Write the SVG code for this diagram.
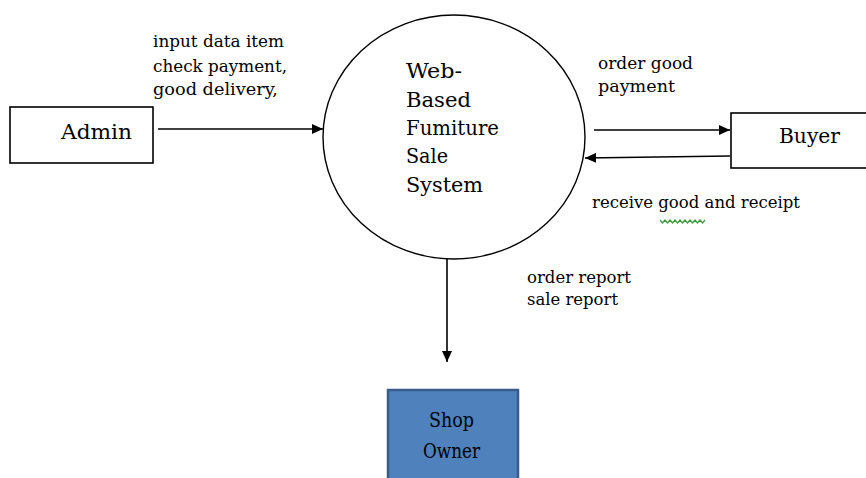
<svg xmlns="http://www.w3.org/2000/svg" width="866" height="478" viewBox="0 0 866 478">
<defs>
<marker id="ah" markerUnits="userSpaceOnUse" markerWidth="12" markerHeight="10" refX="11" refY="5" orient="auto">
<path d="M0,0 L11,5 L0,10 Z" fill="#000"/>
</marker>
<style>
.box{fill:#fff;stroke:#000;stroke-width:1.6}
.owner{fill:#4f81bd;stroke:#385d8a;stroke-width:2.5}
.bubble{fill:#fff;stroke:#000;stroke-width:1.4}
.t{font-family:"DejaVu Serif","Liberation Serif",serif;fill:#000}
.big{font-size:21px}
.lbl{font-size:16px}
.conn{stroke:#000;stroke-width:1.6;fill:none;marker-end:url(#ah)}
</style>
</defs>
<rect width="866" height="478" fill="#fff"/>
<g id="admin">
<rect class="box" x="10" y="107" width="143" height="56"/>
<text class="t big" x="61" y="139" textLength="71" lengthAdjust="spacingAndGlyphs">Admin</text>
</g>
<g id="system">
<ellipse class="bubble" cx="454" cy="137" rx="131" ry="122"/>
<text class="t big" x="406" y="78" textLength="56" lengthAdjust="spacingAndGlyphs">Web-</text>
<text class="t big" x="406" y="107" textLength="65" lengthAdjust="spacingAndGlyphs">Based</text>
<text class="t big" x="406" y="135" textLength="93" lengthAdjust="spacingAndGlyphs">Fumiture</text>
<text class="t big" x="406" y="163" textLength="42" lengthAdjust="spacingAndGlyphs">Sale</text>
<text class="t big" x="406" y="192" textLength="77" lengthAdjust="spacingAndGlyphs">System</text>
</g>
<g id="buyer">
<rect class="box" x="731" y="113" width="145" height="55"/>
<text class="t big" x="779" y="143" textLength="61" lengthAdjust="spacingAndGlyphs">Buyer</text>
</g>
<g id="shop-owner">
<rect class="owner" x="388" y="390" width="130" height="100"/>
<text class="t big" x="429" y="427" textLength="45" lengthAdjust="spacingAndGlyphs">Shop</text>
<text class="t big" x="423" y="458" textLength="57" lengthAdjust="spacingAndGlyphs">Owner</text>
</g>
<g id="connectors">
<line class="conn" x1="158" y1="129" x2="323" y2="129"/>
<line class="conn" x1="594" y1="130" x2="730" y2="130"/>
<line class="conn" x1="730" y1="156" x2="585" y2="158"/>
<line class="conn" x1="447" y1="258" x2="447" y2="362"/>
</g>
<g id="labels">
<text class="t lbl" x="153" y="47" textLength="131" lengthAdjust="spacingAndGlyphs">input data  item</text>
<text class="t lbl" x="153" y="72" textLength="134" lengthAdjust="spacingAndGlyphs">check payment,</text>
<text class="t lbl" x="153" y="95" textLength="125" lengthAdjust="spacingAndGlyphs">good delivery,</text>
<text class="t lbl" x="598" y="69" textLength="95" lengthAdjust="spacingAndGlyphs">order good</text>
<text class="t lbl" x="598" y="92" textLength="77" lengthAdjust="spacingAndGlyphs">payment</text>
<text class="t lbl" x="592" y="208" textLength="208" lengthAdjust="spacingAndGlyphs">receive good and receipt</text>
<text class="t lbl" x="527" y="283" textLength="104" lengthAdjust="spacingAndGlyphs">order report</text>
<text class="t lbl" x="527" y="305" textLength="91" lengthAdjust="spacingAndGlyphs">sale report</text>
<polyline points="660,220 662.5,223 665,220 667.5,223 670,220 672.5,223 675,220 677.5,223 680,220 682.5,223 685,220 687.5,223 690,220 692.5,223 695,220 697.5,223 700,220 702.5,223 705,220" fill="none" stroke="#3a9a3a" stroke-width="1.2"/>
</g>
</svg>
